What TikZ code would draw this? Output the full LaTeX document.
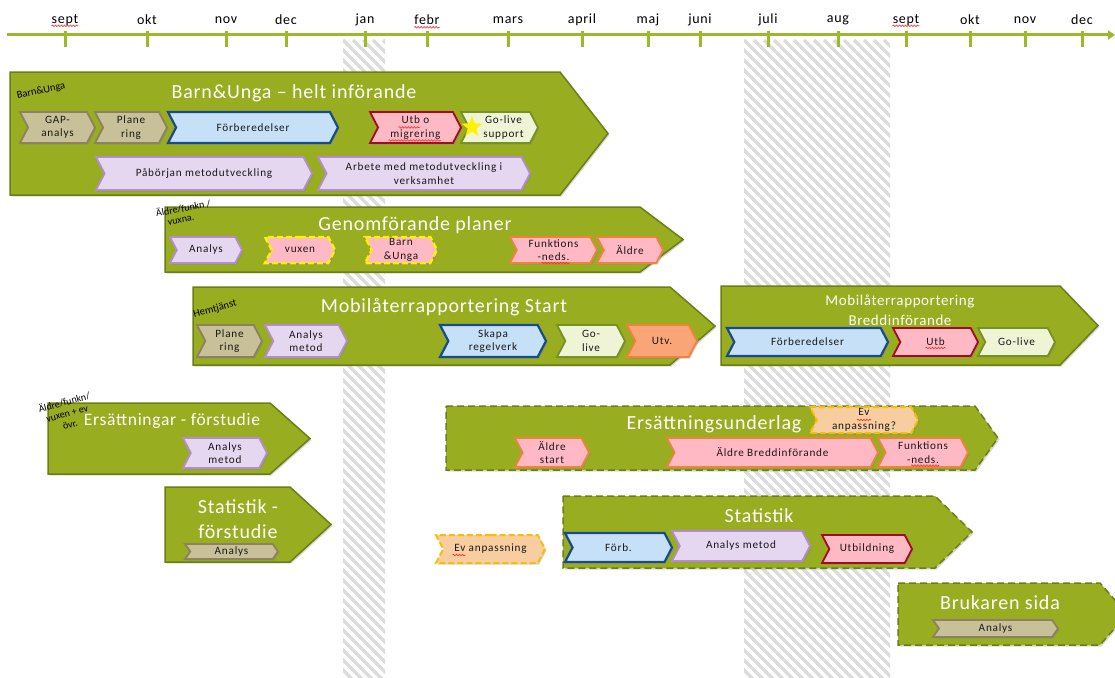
\documentclass[tikz,border=0pt]{standalone}
\usepackage{fontspec}
\setmainfont{Carlito}
\newfontfamily\chf[LetterSpace=7]{Carlito}
\newfontfamily\ttf[LetterSpace=4]{Carlito}
\newfontfamily\mnf[LetterSpace=5]{Carlito}
\usetikzlibrary{shapes.symbols,shapes.geometric,shadows,arrows.meta,decorations.pathmorphing}
\definecolor{bgreen}{RGB}{152,173,32}
\definecolor{dgreen}{RGB}{108,126,22}
\definecolor{tl}{RGB}{155,185,40}
\definecolor{tanf}{RGB}{200,192,152}
\definecolor{tand}{RGB}{140,130,95}
\definecolor{bluef}{RGB}{198,224,247}
\definecolor{blued}{RGB}{25,75,140}
\definecolor{pinkf}{RGB}{255,185,196}
\definecolor{redd}{RGB}{165,10,35}
\definecolor{lavf}{RGB}{230,215,240}
\definecolor{lavd}{RGB}{180,140,210}
\definecolor{ltf}{RGB}{240,244,215}
\definecolor{ltd}{RGB}{120,145,35}
\definecolor{orgd}{RGB}{240,130,60}
\definecolor{utvf}{RGB}{250,165,120}
\definecolor{peachf}{RGB}{248,205,160}
\definecolor{yeld}{RGB}{250,190,0}
\definecolor{ylw}{RGB}{255,240,0}
\definecolor{hatchc}{RGB}{220,220,220}
\tikzset{
 chev/.style={signal, signal to=east, signal from=west, signal pointer angle=125, draw, line width=1.8pt, inner sep=0pt, outer sep=0pt, align=center, font={\chf\fontsize{11.2}{13.5}\selectfont}, text=black!90, drop shadow={shadow xshift=1.5pt, shadow yshift=-1.5pt, opacity=0.35}},
 tanc/.style={chev, fill=tanf, draw=tand},
 bluec/.style={chev, fill=bluef, draw=blued, line width=2.2pt},
 redc/.style={chev, fill=pinkf, draw=redd},
 lavc/.style={chev, fill=lavf, draw=lavd},
 ltc/.style={chev, fill=ltf, draw=ltd},
 orc/.style={chev, fill=pinkf, draw=orgd},
 yelc/.style={chev, fill=pinkf, draw=ylw, dash pattern=on 6pt off 3pt, line width=2.5pt},
 pchc/.style={chev, fill=peachf, draw=yeld, dash pattern=on 6pt off 3pt, line width=2pt},
 utvc/.style={chev, fill=utvf, draw=orgd},
 blk/.style={fill=bgreen, draw=dgreen, line width=1.5pt, drop shadow={shadow xshift=1.5pt, shadow yshift=-1.5pt, opacity=0.3}},
 blkd/.style={blk, dash pattern=on 7pt off 4pt},
 ttl/.style={text=white, font={\ttf\fontsize{20}{25}\selectfont}, align=center, inner sep=0pt},
 tag/.style={font=\fontsize{10.5}{11.5}\selectfont, inner sep=0pt},
 mon/.style={font={\mnf\fontsize{14}{15}\selectfont}, inner sep=0pt},
 tickl/.style={draw=tl, line width=3pt},
 wavy/.style={draw=red!85, line width=0.6pt, decorate, decoration={snake, amplitude=0.8pt, segment length=3pt}},
}
% style, name, x1, x2, y1, y2, text
\newcommand{\chv}[7]{\node[#1,minimum width={#4pt-#3pt},minimum height={#6pt-#5pt}] (#2) at ({(#3+#4)/2},{(#5+#6)/2}) {#7};}
% style, name, x1, x2, xp, y1, y2
\newcommand{\blkk}[7]{\coordinate (#2) at (#3,#6); \path[#1] (#3,#6) -- (#4,#6) -- (#5,{(#6+#7)/2}) -- (#4,#7) -- (#3,#7) -- cycle;}
% underline relative to node: name, x1, x2, dy
\newcommand{\wv}[4]{\draw[wavy] ([xshift=#2pt,yshift=#4pt]#1.center) -- ([xshift=#3pt,yshift=#4pt]#1.center);}
\begin{document}
\begin{tikzpicture}[x=1pt,y=-1pt]
\useasboundingbox (0,0) rectangle (1115,677);
\clip (0,0) rectangle (1115,677);
\fill[white] (0,0) rectangle (1115,677);
% hatched areas
\begin{scope}
\clip (343,40) rectangle (385,677);
\foreach \i in {-660,-650,...,60} \draw[hatchc, line width=3.5pt] ({343+\i},40) -- ++(700,700);
\end{scope}
\begin{scope}
\clip (744,40) rectangle (890,677);
\foreach \i in {-660,-650,...,160} \draw[hatchc, line width=3.5pt] ({744+\i},40) -- ++(700,700);
\end{scope}
% timeline
\coordinate (t0) at (7,35);
\coordinate (t1) at (1115,35);
\draw[tl, line width=3pt, -{Triangle[length=7pt,width=9pt]}] (t0) -- (t1);
\foreach \x/\t/\n in {65/sept/m1,147/okt/m2,226/nov/m3,286/dec/m4,365/jan/m5,427/febr/m6,508/mars/m7,582/april/m8,648/maj/m9,700/juni/m10,768/juli/m11,838/aug/m12,906/sept/m13,970/okt/m14,1025/nov/m15,1082/dec/m16}{
  \node[mon] (\n) at (\x,20) {\t};
  \draw[tickl] (\x,31) -- (\x,47);
}
\draw[wavy] ([yshift=-2.5pt]m1.base west) -- ([yshift=-2.5pt]m1.base east);
\draw[wavy] ([yshift=-2.5pt]m6.base west) -- ([yshift=-2.5pt]m6.base east);
\draw[wavy] ([yshift=-2.5pt]m13.base west) -- ([yshift=-2.5pt]m13.base east);
% blocks
\blkk{blk}{b1}{10}{560}{608}{72}{195}
\blkk{blk}{b2}{165}{640}{683}{207}{272}
\blkk{blk}{b3}{193}{670}{715}{287}{365}
\blkk{blk}{b4}{721}{1060}{1098}{286}{365}
\blkk{blk}{b5}{48}{270}{310}{403}{474}
\blkk{blk}{b6}{165}{290}{331}{487}{562}
\blkk{blkd}{b7}{446}{975}{998}{406}{470}
\blkk{blkd}{b8}{563}{935}{972}{496}{568}
\blkk{blkd}{b9}{898}{1100}{1127}{583}{645}
% titles
\node[ttl] (t1b) at (294,93) {Barn\&Unga – helt införande};
\node[ttl] (t2b) at (415,225) {Genomförande planer};
\node[ttl] (t3b) at (444,307) {Mobilåterrapportering Start};
\node[ttl, font={\ttf\fontsize{15}{20}\selectfont}] (t4b) at (900,310) {Mobilåterrapportering\\Breddinförande};
\node[ttl, font={\ttf\fontsize{17.5}{20}\selectfont}] (t5b) at (172,421) {Ersättningar - förstudie};
\node[ttl] (t6b) at (238,519) {Statistik -\\förstudie};
\node[ttl] (t7b) at (714,424) {Ersättningsunderlag};
\node[ttl] (t8b) at (759,516) {Statistik};
\node[ttl] (t9b) at (1000,603) {Brukaren sida};
% small rotated tags
\node[tag, rotate=12] (g1) at (41,91) {Barn\&Unga};
\node[tag, rotate=10, align=left, font=\fontsize{10}{10.5}\selectfont] (g2) at (184,213) {Äldre/funkn /\\\hspace*{10pt}vuxna.};
\node[tag, rotate=15] (g3) at (215,309) {Hemtjänst};
\node[tag, rotate=15, align=center, font=\fontsize{10}{11.5}\selectfont] (g4) at (67,413) {Äldre/funkn/\\vuxen + ev\\övr.};
% block 1 chevrons
\chv{tanc}{c11}{20}{95}{112}{143}{GAP-\\analys}
\chv{tanc}{c12}{95}{167}{112}{143}{Plane\\ring}
\chv{bluec}{c13}{168}{338}{112}{143}{Förberedelser}
\chv{redc}{c14}{370}{461}{112}{143}{Utb o\\migrering}
\chv{ltc}{c15}{461}{538}{112}{143}{\hspace*{8pt}Go-live\\\hspace*{8pt}support}
\chv{lavc}{c16}{96}{312}{157}{190}{Påbörjan metodutveckling}
\chv{lavc}{c17}{318}{530}{157}{190}{Arbete med metodutveckling i\\verksamhet}
\node[star, star points=5, star point ratio=2.4, fill=yellow, minimum size=22pt, inner sep=0pt] (star) at (472,127) {};
% block 2 chevrons
\chv{lavc}{c21}{170}{242}{237}{263}{Analys}
\chv{yelc}{c22}{265}{335}{237}{263}{vuxen}
\chv{yelc}{c23}{365}{437}{237}{263}{Barn\\\&Unga}
\chv{orc}{c24}{510}{597}{237}{263}{Funktions\\-neds.}
\chv{orc}{c25}{597}{663}{237}{263}{Äldre}
% block 3 chevrons
\chv{tanc}{c31}{197}{262}{325}{357}{Plane\\ring}
\chv{lavc}{c32}{265}{347}{325}{357}{Analys\\metod}
\chv{bluec}{c33}{440}{546}{325}{357}{Skapa\\regelverk}
\chv{ltc}{c34}{557}{625}{325}{357}{Go-\\live}
\chv{utvc}{c35}{627}{697}{325}{357}{Utv.}
% block 4 chevrons
\chv{bluec}{c41}{727}{888}{328}{356}{Förberedelser}
\chv{redc}{c42}{893}{978}{328}{356}{Utb}
\chv{ltc}{c43}{978}{1055}{328}{356}{Go-live}
% block 5, 6
\chv{lavc}{c51}{183}{267}{438}{468}{Analys\\metod}
\chv{tanc, signal pointer angle=110}{c61}{185}{278}{544}{559}{Analys}
% block 7
\chv{pchc}{c71}{810}{918}{407}{433}{Ev\\anpassning?}
\chv{orc}{c72}{515}{589}{438}{467}{Äldre\\start}
\chv{orc}{c73}{667}{878}{438}{467}{Äldre Breddinförande}
\chv{orc}{c74}{878}{968}{438}{467}{Funktions\\-neds.}
% block 8
\chv{pchc}{c81}{436}{545}{535}{563}{Ev anpassning}
\chv{bluec}{c82}{565}{672}{533}{562}{Förb.}
\chv{lavc}{c83}{672}{810}{531}{561}{Analys metod}
\chv{redc}{c84}{822}{912}{535}{563}{Utbildning}
% block 9
\chv{tanc, signal pointer angle=110}{c91}{933}{1058}{620}{637}{Analys}
% spell-check underlines
\wv{c14}{-17}{4}{0}
\wv{c14}{-27}{25}{-13}
\wv{c42}{-10}{10}{-6}
\wv{c24}{-12}{16}{-13}
\wv{c74}{-12}{16}{-13}
\wv{c71}{-7}{7}{0}
\wv{c81}{-38}{-25}{-6}
\end{tikzpicture}
\end{document}
